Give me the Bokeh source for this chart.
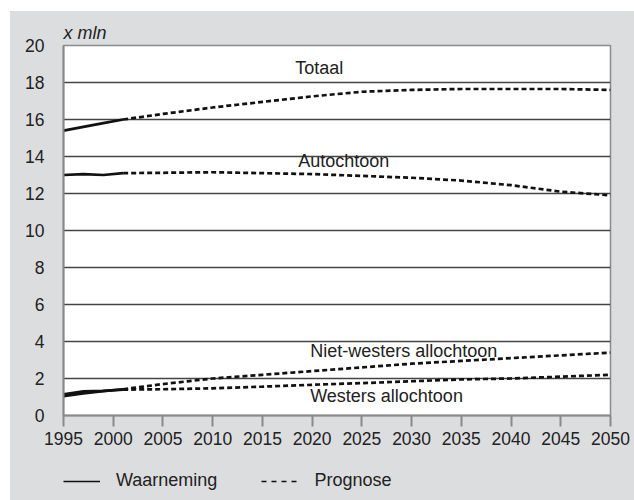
from bokeh.plotting import figure
from bokeh.layouts import column
from bokeh.models import Range1d, SingleIntervalTicker, Label, Legend, LegendItem
from bokeh.embed import file_html
from bokeh.resources import INLINE

# ---- data (x mln) ----
years_obs = [1995, 1997, 1999, 2001]
totaal_obs = [15.4, 15.6, 15.8, 16.0]
autochtoon_obs = [13.0, 13.05, 13.0, 13.1]
nietwesters_obs = [1.05, 1.2, 1.32, 1.42]
westers_obs = [1.15, 1.3, 1.33, 1.4]

years_prog = [2001, 2005, 2010, 2015, 2020, 2025, 2030, 2035, 2040, 2045, 2050]
totaal_prog = [16.0, 16.3, 16.65, 16.95, 17.25, 17.5, 17.6, 17.65, 17.65, 17.65, 17.6]
autochtoon_prog = [13.1, 13.12, 13.15, 13.1, 13.05, 12.95, 12.85, 12.7, 12.45, 12.1, 11.9]
nietwesters_prog = [1.42, 1.7, 2.0, 2.2, 2.4, 2.6, 2.8, 2.95, 3.1, 3.25, 3.4]
westers_prog = [1.4, 1.42, 1.47, 1.56, 1.66, 1.75, 1.85, 1.95, 2.0, 2.1, 2.2]

series_names = ["Totaal", "Autochtoon", "Niet-westers allochtoon", "Westers allochtoon"]
legend_labels = ["Waarneming", "Prognose"]

FONT = "Liberation Sans"
GRAY_BG = "#dcdddf"
AXIS_GRAY = "#8a8a8a"
TXT = "#222222"

p = figure(width=624, height=446, output_backend="svg", toolbar_location=None,
           x_range=Range1d(1995, 2050), y_range=Range1d(0, 20),
           min_border_left=53, min_border_right=24, min_border_top=34, min_border_bottom=42,
           background_fill_color="white", border_fill_color=GRAY_BG)

p.title.text = "x mln"
p.title.text_font = FONT
p.title.text_font_style = "italic"
p.title.text_font_size = "18px"
p.title.text_color = TXT
p.title.align = "left"
p.title.standoff = 5

p.outline_line_color = AXIS_GRAY
p.outline_line_width = 1.5

p.xaxis.ticker = SingleIntervalTicker(interval=5)
p.yaxis.ticker = SingleIntervalTicker(interval=2)
for ax in (p.xaxis, p.yaxis):
    ax.axis_line_color = AXIS_GRAY
    ax.axis_line_width = 2
    ax.major_tick_line_color = AXIS_GRAY
    ax.major_tick_line_width = 2
    ax.minor_tick_line_color = None
    ax.major_label_text_font = FONT
    ax.major_label_text_font_size = "17.5px"
    ax.major_label_text_color = TXT
p.xaxis.major_tick_out = 11
p.xaxis.major_tick_in = 0
p.xaxis.major_label_standoff = 5
p.yaxis.major_tick_out = 0
p.yaxis.major_tick_in = 0
p.yaxis.major_label_standoff = 15

p.xgrid.grid_line_color = None
p.ygrid.grid_line_color = "#444444"
p.ygrid.grid_line_width = 1.3

obs = [totaal_obs, autochtoon_obs, nietwesters_obs, westers_obs]
prog = [totaal_prog, autochtoon_prog, nietwesters_prog, westers_prog]
for o, pr in zip(obs, prog):
    p.line(years_obs, o, line_color="#111111", line_width=2.7)
    p.line(years_prog, pr, line_color="#111111", line_width=2.7, line_dash="5 3")

label_pos = [(2018.3, 18.76), (2018.6, 13.73), (2019.8, 3.51), (2019.8, 1.08)]
for name, (lx, ly) in zip(series_names, label_pos):
    p.add_layout(Label(x=lx, y=ly, text=name, text_baseline="middle",
                       text_font=FONT, text_font_size="18px", text_color=TXT))

# ---- legend strip (its renderers lie outside its visible range) ----
p2 = figure(width=624, height=43, output_backend="svg", toolbar_location=None,
            x_range=Range1d(0, 1), y_range=Range1d(0, 1),
            x_axis_type=None, y_axis_type=None, min_border=0,
            background_fill_color=GRAY_BG, border_fill_color=GRAY_BG)
p2.outline_line_color = None
p2.xgrid.grid_line_color = None
p2.ygrid.grid_line_color = None

r_solid = p2.line(years_obs, totaal_obs, line_color="#111111", line_width=1.5)
r_dash = p2.line(years_prog, totaal_prog, line_color="#111111", line_width=1.5, line_dash="5 5")

legend = Legend(items=[LegendItem(label=legend_labels[0], renderers=[r_solid]),
                       LegendItem(label=legend_labels[1], renderers=[r_dash])],
                orientation="horizontal", location=(0, 9),
                margin=0, padding=0, spacing=44,
                glyph_width=37, glyph_height=20, label_standoff=16,
                label_text_font=FONT, label_text_font_size="18px", label_text_color=TXT,
                background_fill_alpha=0, border_line_color=None)
p2.add_layout(legend, "center")

layout = column(p, p2, spacing=0, margin=(11, 0, 0, 10),
                styles={"background-color": GRAY_BG})
open("out.html", "w").write(file_html(layout, INLINE))
